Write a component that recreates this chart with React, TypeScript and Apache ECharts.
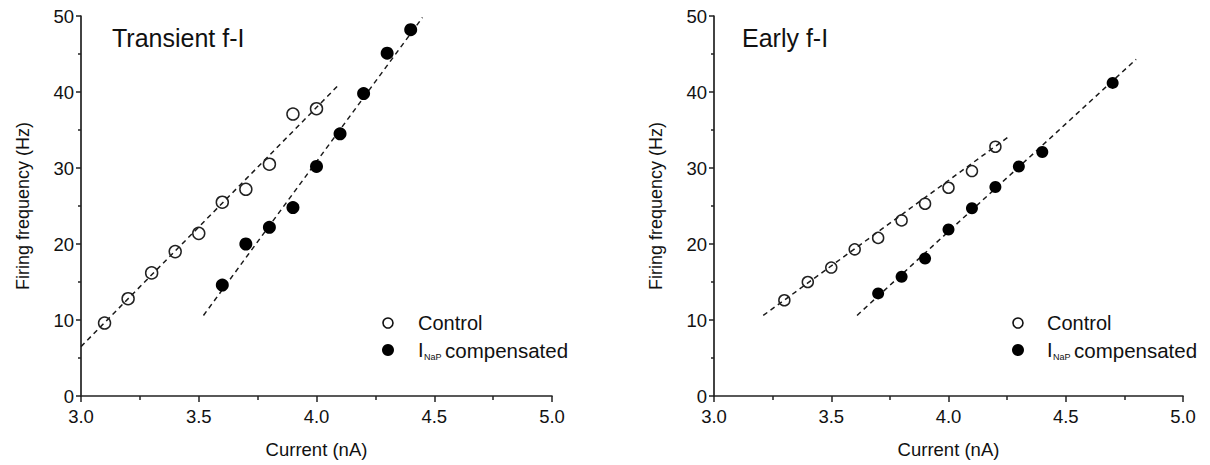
import React, { useEffect, useRef } from "react";
import * as echarts from "echarts";

// ---- data ----
const leftControlX = [3.1, 3.2, 3.3, 3.4, 3.5, 3.6, 3.7, 3.8, 3.9, 4.0];
const leftControlY = [9.6, 12.8, 16.2, 19.0, 21.4, 25.5, 27.2, 30.5, 37.1, 37.8];
const leftNapX = [3.6, 3.7, 3.8, 3.9, 4.0, 4.1, 4.2, 4.3, 4.4];
const leftNapY = [14.6, 20.0, 22.2, 24.8, 30.2, 34.5, 39.8, 45.1, 48.2];

const rightControlX = [3.3, 3.4, 3.5, 3.6, 3.7, 3.8, 3.9, 4.0, 4.1, 4.2];
const rightControlY = [12.6, 15.0, 16.9, 19.3, 20.8, 23.1, 25.3, 27.4, 29.6, 32.8];
const rightNapX = [3.7, 3.8, 3.9, 4.0, 4.1, 4.2, 4.3, 4.4, 4.7];
const rightNapY = [13.5, 15.7, 18.1, 21.9, 24.7, 27.5, 30.2, 32.1, 41.2];

// fitted (dashed) lines: [x, y] end points
const leftControlFit = [[3.0, 6.5], [4.09, 40.8]];
const leftNapFit = [[3.52, 10.6], [4.45, 49.8]];
const rightControlFit = [[3.21, 10.6], [4.26, 34.2]];
const rightNapFit = [[3.61, 10.6], [4.8, 44.3]];

const panelTitles = ["Transient f-I", "Early f-I"];
const xTicks = [3.0, 3.5, 4.0, 4.5, 5.0];
const yTicks = [0, 10, 20, 30, 40, 50];
const xName = "Current (nA)";
const yName = "Firing frequency (Hz)";
const legendNames = ["Control", "compensated"];

const FONT = "'Liberation Sans', Arial, Helvetica, sans-serif";
const INK = "#111";
const LINE = "#222";

const zip = (xs: number[], ys: number[]) => xs.map((x, i) => [x, ys[i]]);

export default function App() {
  const ref = useRef<HTMLDivElement>(null);

  useEffect(() => {
    if (!ref.current) return;
    const chart = echarts.init(ref.current, undefined, { renderer: "svg" });

    const grids = [
      { left: 81, top: 16, width: 471, height: 380 },
      { left: 714, top: 16, width: 469, height: 380 },
    ];

    const xAxis = grids.map((_, i) => ({
      gridIndex: i,
      type: "value",
      min: xTicks[0],
      max: xTicks[xTicks.length - 1],
      interval: 0.5,
      name: xName,
      nameLocation: "middle",
      nameGap: 44,
      nameTextStyle: { fontSize: 18.5, color: INK, fontFamily: FONT },
      axisLine: { show: true, onZero: false, lineStyle: { color: LINE, width: 1.7 } },
      axisTick: { show: true, length: 6, lineStyle: { color: LINE, width: 1.5 } },
      minorTick: { show: true, splitNumber: 2, length: 4, lineStyle: { color: LINE, width: 1.5 } },
      splitLine: { show: false },
      axisLabel: {
        fontSize: 18.5,
        color: INK,
        fontFamily: FONT,
        margin: 11,
        formatter: (v: number) => v.toFixed(1),
      },
    }));

    const yAxis = grids.map((_, i) => ({
      gridIndex: i,
      type: "value",
      min: yTicks[0],
      max: yTicks[yTicks.length - 1],
      interval: 10,
      name: yName,
      nameLocation: "middle",
      nameGap: 49,
      nameTextStyle: { fontSize: 18, color: INK, fontFamily: FONT },
      axisLine: { show: true, onZero: false, lineStyle: { color: LINE, width: 1.7 } },
      axisTick: { show: true, length: 5, lineStyle: { color: LINE, width: 1.5 } },
      minorTick: { show: true, splitNumber: 2, length: 3, lineStyle: { color: LINE, width: 1.5 } },
      splitLine: { show: false },
      axisLabel: { fontSize: 18.5, color: INK, fontFamily: FONT, margin: 7 },
    }));

    const fitSeries = (data: number[][], idx: number) => ({
      type: "line",
      xAxisIndex: idx,
      yAxisIndex: idx,
      data,
      symbol: "none",
      silent: true,
      lineStyle: { color: "#1a1a1a", width: 1.5, type: [5, 4], opacity: 1 },
      z: 2,
    });
    const openSeries = (data: number[][], idx: number, size: number) => ({
      type: "scatter",
      xAxisIndex: idx,
      yAxisIndex: idx,
      data,
      symbol: "circle",
      symbolSize: size,
      itemStyle: { color: "rgba(0,0,0,0)", borderColor: "#222", borderWidth: 1.5, opacity: 1 },
      z: 3,
    });
    const filledSeries = (data: number[][], idx: number, size: number) => ({
      type: "scatter",
      xAxisIndex: idx,
      yAxisIndex: idx,
      data,
      symbol: "circle",
      symbolSize: size,
      itemStyle: { color: "#000", opacity: 1 },
      z: 3,
    });

    const legendGraphic = (cx: number, tx: number) => [
      {
        type: "circle",
        shape: { cx, cy: 323, r: 5 },
        style: { fill: "none", stroke: "#111", lineWidth: 1.6 },
      },
      {
        type: "text",
        x: tx,
        y: 323,
        style: { text: legendNames[0], fontSize: 20, fontFamily: FONT, fill: INK, verticalAlign: "middle" },
      },
      {
        type: "circle",
        shape: { cx, cy: 350, r: 6 },
        style: { fill: "#000" },
      },
      {
        type: "text",
        x: tx,
        y: 350,
        style: { text: "I", fontSize: 20, fontFamily: FONT, fill: INK, verticalAlign: "middle" },
      },
      {
        type: "text",
        x: tx + 6,
        y: 357,
        style: { text: "NaP", fontSize: 9, fontFamily: FONT, fill: INK, verticalAlign: "middle" },
      },
      {
        type: "text",
        x: tx + 27,
        y: 350,
        style: { text: legendNames[1], fontSize: 20.5, fontFamily: FONT, fill: INK, verticalAlign: "middle" },
      },
    ];

    chart.setOption({
      animation: false,
      backgroundColor: "#fff",
      grid: grids,
      xAxis,
      yAxis,
      series: [
        fitSeries(leftControlFit, 0),
        fitSeries(leftNapFit, 0),
        openSeries(zip(leftControlX, leftControlY), 0, 12),
        filledSeries(zip(leftNapX, leftNapY), 0, 13),
        fitSeries(rightControlFit, 1),
        fitSeries(rightNapFit, 1),
        openSeries(zip(rightControlX, rightControlY), 1, 11),
        filledSeries(zip(rightNapX, rightNapY), 1, 12),
      ],
      graphic: [
        {
          type: "text",
          x: 112,
          y: 38,
          style: { text: panelTitles[0], fontSize: 25, fontFamily: FONT, fill: INK, verticalAlign: "middle" },
        },
        {
          type: "text",
          x: 742,
          y: 38,
          style: { text: panelTitles[1], fontSize: 25, fontFamily: FONT, fill: INK, verticalAlign: "middle" },
        },
        ...legendGraphic(388, 418),
        ...legendGraphic(1018, 1047),
      ],
    });

    return () => chart.dispose();
  }, []);

  return (
    <div
      ref={ref}
      style={{ position: "absolute", left: 0, top: 0, width: 1210, height: 465, background: "#fff" }}
    />
  );
}
